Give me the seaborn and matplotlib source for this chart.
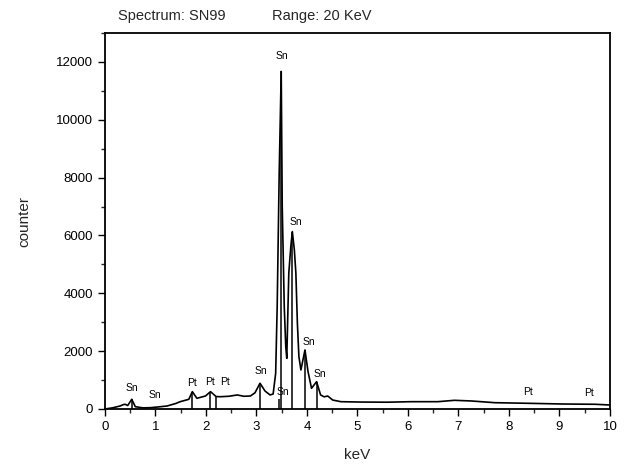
import matplotlib
matplotlib.use("Agg")
import matplotlib.pyplot as plt
import seaborn as sns
import pandas as pd
from matplotlib.ticker import MultipleLocator

# Spectrum
energy = [0.00, 0.15, 0.30, 0.36, 0.40, 0.45, 0.53, 0.60, 0.75, 0.89, 1.05, 1.23, 1.40, 1.49, 1.66, 1.73,
          1.82, 1.99, 2.09, 2.20, 2.29, 2.45, 2.62, 2.75, 2.88, 2.97, 3.07, 3.17, 3.27, 3.33, 3.38, 3.41,
          3.45, 3.49, 3.51, 3.55, 3.58, 3.60, 3.64, 3.68, 3.71, 3.75, 3.78, 3.81, 3.84, 3.88, 3.96,
          4.02, 4.09, 4.19, 4.27, 4.34, 4.41, 4.51, 4.67, 5.07, 5.60, 6.06, 6.59, 6.92, 7.26,
          7.72, 8.38, 9.05, 9.71, 10.00]
counts = [0, 40, 104, 150, 163, 120, 335, 80, 40, 45, 70, 104, 190, 253, 335, 600,
          370, 450, 600, 430, 425, 440, 485, 440, 450, 560, 890, 620, 485, 520, 1235, 3540,
          8170, 11670, 7000, 3540, 2155, 1750, 4700, 5615, 6135, 5500, 4700, 2965, 1810, 1350, 2040,
          1300, 715, 945, 485, 420, 450, 310, 253, 240, 235, 253, 253, 300, 277,
          218, 197, 173, 163, 138]

# Element marker lines
line_elem = ["Sn", "Sn", "Pt", "Pt", "Pt", "Sn", "Sn", "Sn", "Sn", "Sn", "Sn", "Pt", "Pt"]
line_energy = [0.53, 0.98, 1.73, 2.08, 2.19, 3.07, 3.45, 3.49, 3.71, 3.96, 4.19, 8.38, 9.55]
line_height = [335, 0, 600, 600, 420, 890, 350, 11670, 6135, 2040, 945, 0, 0]
label_energy = [0.53, 0.98, 1.72, 2.07, 2.37, 3.08, 3.53, 3.50, 3.78, 4.04, 4.26, 8.38, 9.58]
label_count = [720, 480, 910, 945, 945, 1320, 600, 12200, 6480, 2330, 1210, 600, 565]

df = pd.DataFrame({"keV": energy, "counter": counts})

sns.set_style("ticks")
plt.rcParams["font.family"] = ["Liberation Sans", "DejaVu Sans"]

fig = plt.figure(figsize=(6.26, 4.67), dpi=100)
ax = fig.add_axes([0.1677, 0.1242, 0.8067, 0.8051])

sns.lineplot(data=df, x="keV", y="counter", ax=ax, color="black", linewidth=1.2, sort=False)
ax.vlines(line_energy, 0, line_height, color="black", linewidth=1.1)
for el, xe, yc in zip(line_elem, label_energy, label_count):
    ax.text(xe, yc, el, fontsize=7.5, ha="center", va="center", color="black")

ax.set_xlim(0, 10)
ax.set_ylim(0, 13000)
ax.xaxis.set_major_locator(MultipleLocator(1))
ax.xaxis.set_minor_locator(MultipleLocator(0.5))
ax.yaxis.set_major_locator(MultipleLocator(2000))
ax.yaxis.set_minor_locator(MultipleLocator(1000))
ax.tick_params(which="major", direction="out", length=5, width=1.0, labelsize=9.5, colors="black")
ax.tick_params(which="minor", direction="out", length=3, width=1.0)
for s in ax.spines.values():
    s.set_visible(True)
    s.set_linewidth(1.3)
    s.set_color("black")
ax.set_xlabel("keV", fontsize=11, labelpad=11)
ax.set_ylabel("counter", fontsize=11, labelpad=18)

fig.text(118 / 626, 1 - 16 / 467, "Spectrum: SN99", fontsize=10.5, ha="left", va="center")
fig.text(272 / 626, 1 - 16 / 467, "Range: 20 KeV", fontsize=10.5, ha="left", va="center")

fig.savefig("out.png", dpi=100)
